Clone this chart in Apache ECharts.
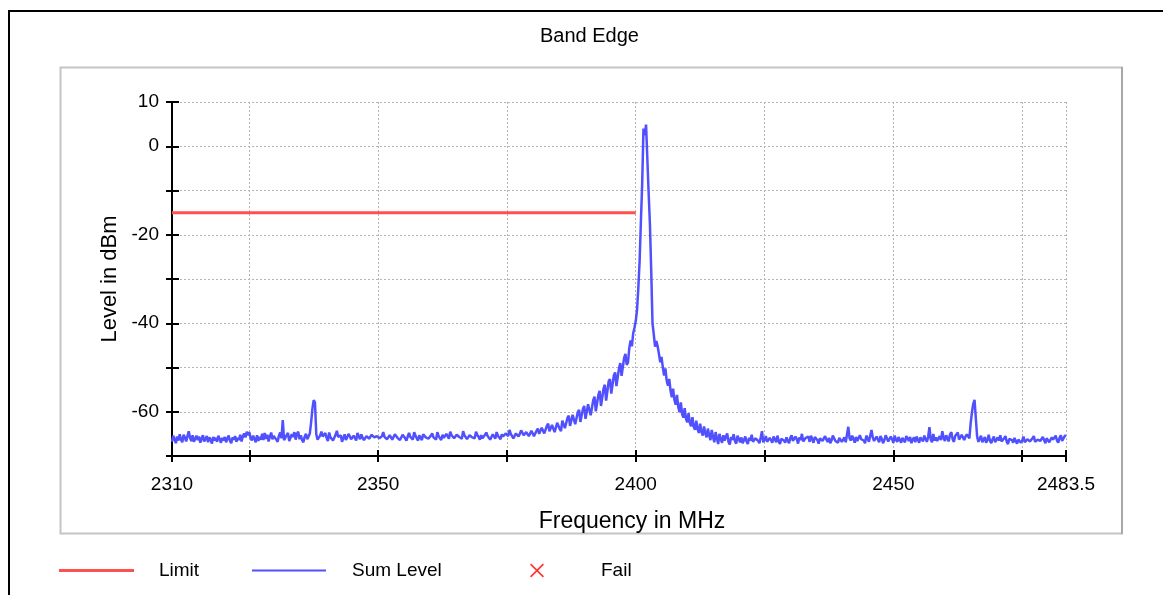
<!DOCTYPE html>
<html><head><meta charset="utf-8">
<script src="https://cdn.jsdelivr.net/npm/echarts@6/dist/echarts.min.js"></script>
<style>html,body{margin:0;padding:0;background:#fff}#c{width:1163px;height:595px}</style>
</head><body><div id="c"></div>
<script>
const TITLE = 'Band Edge';
const X_NAME = 'Frequency in MHz';
const Y_NAME = 'Level in dBm';
const X_TICKS = [2310, 2325, 2350, 2375, 2400, 2425, 2450, 2475, 2483.5];
const X_LABELS = [2310, 2350, 2400, 2450, 2483.5];
const Y_LABELS = [10, 0, -20, -40, -60];
const SERIES_NAMES = ['Limit', 'Sum Level', 'Fail'];

// Limit line
const limitFreq = [2310, 2400];
const limitLevel = [-15, -15];

// Sweep below carrier: 2310 .. 2399.75 MHz, 0.25 MHz step
const LOW_START = 2310, LOW_STEP = 0.25;
const lowLevels = [
  -66.8,-65.4,-66.2,-67.1,-65.6,-66.5,-65.1,-66.3,-66.9,-65.2,-65.8,-66.7,-65.5,-64.4,-65.9,-66.6,-65.3,-66.8,-66.1,-65.4,
  -66.4,-65.6,-67.0,-66.1,-65.3,-66.7,-66.2,-65.5,-66.9,-65.8,-66.3,-67.2,-65.7,-66.5,-65.9,-66.8,-65.4,-66.2,-67.0,-65.9,
  -66.5,-65.7,-66.9,-66.0,-65.4,-66.6,-67.1,-65.8,-66.3,-65.5,-66.8,-65.9,-66.4,-65.2,-66.7,-65.6,-64.9,-65.8,-64.5,-65.3,
  -64.6,-65.9,-66.5,-65.4,-66.1,-66.9,-65.3,-66.6,-65.7,-66.3,-65.0,-66.4,-64.8,-66.1,-65.2,-66.7,-65.6,-64.7,-66.2,-65.5,
  -65.1,-66.3,-66.8,-65.4,-64.7,-66.0,-61.9,-66.4,-66.0,-65.3,-64.8,-66.6,-66.2,-65.1,-65.7,-64.6,-66.3,-65.0,-64.5,-66.2,
  -65.3,-66.4,-66.9,-65.6,-65.0,-66.2,-65.6,-64.9,-62.4,-59.3,-57.4,-57.9,-65.1,-66.3,-66.7,-65.4,-64.5,-65.6,-66.0,-64.8,
  -65.9,-66.6,-64.7,-65.8,-65.4,-66.5,-66.1,-65.2,-64.3,-65.7,-66.0,-65.3,-66.8,-65.9,-65.1,-66.4,-65.8,-65.0,-65.5,-66.2,
  -66.6,-65.4,-65.8,-66.5,-64.8,-65.6,-66.2,-65.1,-65.9,-66.4,-66.8,-65.5,-65.3,-66.1,-66.0,-65.2,-64.9,-65.8,-66.2,-65.5,
  -65.2,-66.0,-66.4,-65.5,-64.6,-65.7,-65.4,-66.2,-66.1,-65.3,-65.0,-66.3,-66.5,-65.1,-64.7,-65.9,-65.5,-66.4,-66.0,-65.2,
  -65.1,-66.0,-66.5,-65.6,-64.8,-65.7,-65.8,-66.3,-64.6,-65.4,-66.0,-66.5,-65.3,-65.9,-66.4,-65.1,-64.7,-65.8,-65.6,-66.1,
  -66.2,-65.4,-64.9,-65.8,-65.6,-66.3,-64.6,-65.5,-65.8,-66.4,-65.2,-65.9,-66.3,-65.0,-65.4,-66.1,-64.5,-65.3,-65.7,-66.0,
  -66.0,-65.2,-64.8,-65.7,-65.4,-66.1,-64.4,-65.3,-65.6,-66.2,-66.1,-65.3,-64.9,-65.8,-65.4,-66.0,-64.5,-65.2,-65.7,-66.3,
  -65.3,-66.0,-66.1,-65.2,-64.7,-65.5,-65.4,-66.3,-66.0,-65.1,-65.2,-66.1,-64.6,-65.4,-65.7,-66.2,-65.1,-65.6,-65.8,-64.9,
  -64.8,-65.5,-64.1,-65.0,-65.4,-66.0,-65.8,-64.9,-64.5,-65.6,-65.0,-64.2,-64.3,-65.3,-65.7,-64.6,-64.8,-65.5,-65.2,-64.3,
  -64.6,-65.5,-65.9,-64.3,-63.8,-65.0,-65.4,-63.6,-63.4,-64.9,-65.1,-63.2,-62.7,-64.4,-64.8,-63.0,-63.2,-64.6,-64.3,-62.5,
  -62.2,-63.9,-64.4,-62.0,-61.8,-63.7,-64.0,-61.4,-60.9,-63.2,-63.4,-60.7,-60.5,-62.8,-63.0,-60.1,-59.6,-62.3,-62.5,-59.4,
  -58.7,-61.6,-61.9,-58.3,-57.9,-60.8,-61.0,-57.4,-56.6,-59.9,-60.1,-56.2,-55.3,-58.7,-58.9,-54.8,-53.9,-57.5,-57.2,-53.1,
  -52.6,-55.9,-56.1,-51.8,-51.1,-54.2,-53.9,-50.2,-49.0,-51.9,-51.5,-47.8,-46.9,-49.4,-48.8,-45.6,-43.9,-45.2,-42.3,-41.0
];

// Carrier: 2400 .. 2404 MHz, 0.25 MHz step
const PEAK_START = 2400, PEAK_STEP = 0.25;
const peakLevels = [
  -39.5,-37.0,-32.0,-26.0,-17.0,-8.5,4.0,2.5,4.9,4.5,
  -10.5,-17.5,-28.0,-40.0,-42.5,-45.3,-44.0
];

// Sweep above carrier: 2404.25 .. 2483.5 MHz, 0.25 MHz step
const HIGH_START = 2404.25, HIGH_STEP = 0.25;
const highLevels = [
  -45.2,-46.9,-48.8,-47.6,-49.9,-51.8,-50.2,-52.9,-54.1,-52.6,-55.2,-56.7,-54.8,-57.3,-58.4,-56.2,-58.9,-60.1,-57.9,-60.5,
  -61.3,-59.2,-61.6,-62.4,-60.3,-62.5,-63.3,-61.2,-63.4,-64.1,-62.0,-63.9,-64.8,-62.7,-64.5,-65.4,-63.3,-64.9,-65.8,-63.8,
  -65.3,-66.4,-64.1,-65.7,-66.9,-64.6,-66.0,-67.3,-65.0,-66.2,-67.0,-65.3,-66.5,-65.6,-64.9,-66.8,-67.4,-65.7,-66.3,-65.1,
  -66.6,-67.2,-65.4,-66.1,-66.9,-65.8,-67.1,-66.4,-65.6,-66.7,-67.3,-65.9,-66.5,-65.2,-66.8,-67.0,-66.0,-65.7,-66.6,-67.1,
  -65.8,-64.4,-66.9,-66.3,-65.5,-66.8,-67.2,-65.9,-66.4,-67.0,-65.6,-66.2,-66.9,-65.4,-66.7,-67.3,-66.1,-65.7,-66.5,-67.0,
  -65.8,-66.5,-67.1,-65.9,-65.3,-66.6,-66.9,-65.6,-66.2,-67.2,-65.8,-66.4,-65.0,-66.7,-67.0,-65.9,-66.3,-65.6,-66.8,-65.4,
  -66.2,-67.0,-65.7,-65.5,-66.4,-67.2,-66.0,-65.7,-66.6,-66.9,-65.5,-66.3,-66.8,-65.9,-67.1,-66.5,-65.4,-65.8,-66.6,-66.2,
  -67.0,-65.9,-65.6,-66.8,-66.4,-65.8,-66.9,-67.1,-63.4,-66.0,-66.5,-65.4,-66.1,-67.0,-65.7,-66.6,-66.9,-65.3,-66.2,-65.9,
  -66.5,-67.1,-65.4,-66.0,-66.8,-67.2,-64.1,-65.8,-66.6,-67.0,-65.6,-66.3,-66.9,-65.5,-66.1,-67.1,-66.4,-65.3,-66.0,-66.7,
  -66.5,-65.6,-66.2,-67.0,-65.4,-66.3,-66.8,-65.7,-66.4,-67.0,-65.9,-66.2,-66.9,-65.5,-66.0,-66.6,-65.7,-67.1,-66.3,-65.8,
  -66.9,-65.6,-66.3,-67.0,-65.8,-66.2,-66.7,-65.4,-66.1,-66.8,-65.7,-63.5,-66.3,-66.9,-65.0,-66.5,-65.8,-66.6,-66.2,-65.5,
  -66.4,-64.4,-65.9,-66.6,-65.3,-66.0,-66.7,-65.1,-64.6,-66.2,-66.8,-65.5,-65.9,-64.7,-66.3,-66.6,-65.2,-65.8,-66.4,-65.6,
  -65.1,-64.8,-66.0,-62.6,-60.1,-58.2,-57.3,-57.6,-65.6,-66.8,-66.1,-65.4,-66.9,-66.3,-65.7,-67.0,-66.4,-65.2,-66.6,-67.1,
  -66.2,-65.6,-66.9,-67.2,-65.8,-66.5,-65.3,-66.7,-67.1,-66.0,-65.5,-66.8,-67.3,-66.1,-65.7,-66.4,-67.0,-65.9,-66.6,-67.2,
  -66.3,-65.9,-67.0,-66.5,-65.6,-66.9,-67.3,-66.2,-65.8,-66.7,-67.1,-66.0,-65.5,-66.8,-67.2,-66.3,-65.9,-66.6,-67.0,-65.7,
  -66.4,-67.1,-66.0,-65.6,-66.9,-67.2,-65.8,-66.3,-66.7,-65.4,-66.5,-67.0,-65.9,-65.3,-66.6,-66.2,-65.5,-65.3
];

// Fail markers (none)
const failPoints = [];

const FONT = "'Liberation Sans', Arial, sans-serif";
const sumData = []
  .concat(lowLevels.map((v, i) => [LOW_START + i * LOW_STEP, v]))
  .concat(peakLevels.map((v, i) => [PEAK_START + i * PEAK_STEP, v]))
  .concat(highLevels.map((v, i) => [HIGH_START + i * HIGH_STEP, v]));
const limitData = limitFreq.map((f, i) => [f, limitLevel[i]]);

const X_ICON = 'path://M0,1L1,0L6,5L11,0L12,1L7,6L12,11L11,12L6,7L1,12L0,11L5,6Z';
const chart = echarts.init(document.getElementById('c'), null, {renderer: 'canvas'});

const gridLine = {show: true, lineStyle: {color: '#b4b4b4', width: 1, type: [2, 2]}};
const xBase = {type: 'value', min: 2310, max: 2483.5, position: 'bottom', gridIndex: 0};
const yBase = {type: 'value', min: -70, max: 10, interval: 10, position: 'left', gridIndex: 0};

chart.setOption({
  animation: false,
  backgroundColor: '#fff',
  textStyle: {fontFamily: FONT},
  title: {
    text: TITLE, left: 540, top: 26, padding: 0,
    textStyle: {fontFamily: FONT, fontSize: 20, fontWeight: 'normal', color: '#000'}
  },
  graphic: [
    {type: 'rect', shape: {x: 9, y: 11, width: 1300, height: 800}, style: {fill: 'none', stroke: '#000', lineWidth: 2}, z: -10, silent: true},
    {type: 'rect', shape: {x: 60.5, y: 67.5, width: 1061.5, height: 466}, style: {fill: 'none', stroke: '#c4c4c4', lineWidth: 2}, z: -10, silent: true},
    {type: 'line', shape: {x1: 1122, y1: 67, x2: 1122, y2: 534}, style: {stroke: '#a8a8a8', lineWidth: 2}, z: -9, silent: true}
  ],
  grid: {left: 172, top: 102, width: 894, height: 354, containLabel: false},
  legend: [
    {left: 59, top: 561, padding: 0, icon: 'rect', itemWidth: 75, itemHeight: 3, selectedMode: false,
     data: [{name: SERIES_NAMES[0], itemStyle: {color: '#ff5050'}}],
     textStyle: {fontFamily: FONT, fontSize: 19, color: '#000', padding: [0, 0, 0, 20]}},
    {left: 252, top: 561, padding: 0, icon: 'rect', itemWidth: 74, itemHeight: 2, selectedMode: false,
     data: [{name: SERIES_NAMES[1], itemStyle: {color: '#5050ff'}}],
     textStyle: {fontFamily: FONT, fontSize: 19, color: '#000', padding: [0, 0, 0, 21]}},
    {left: 530, top: 561, padding: 0, icon: X_ICON, itemWidth: 14, itemHeight: 14, selectedMode: false,
     data: [{name: SERIES_NAMES[2], itemStyle: {color: '#ff0000'}}],
     textStyle: {fontFamily: FONT, fontSize: 19, color: '#000', padding: [0, 0, 0, 52]}}
  ],
  xAxis: [
    Object.assign({}, xBase, {
      name: X_NAME, nameLocation: 'middle', nameGap: 54,
      nameTextStyle: {fontFamily: FONT, fontSize: 23, color: '#000', padding: [0, 0, 0, 26]},
      axisLine: {show: true, onZero: false, lineStyle: {color: '#000', width: 2}},
      axisTick: {show: true, inside: false, length: 6, lineStyle: {color: '#000', width: 2}, customValues: X_TICKS},
      axisLabel: {show: true, margin: 19, fontFamily: FONT, fontSize: 19, color: '#000', customValues: X_LABELS,
                  formatter: v => String(v)},
      splitLine: gridLine
    }),
    Object.assign({}, xBase, {
      axisLine: {show: false, onZero: false},
      axisTick: {show: true, inside: true, length: 6, lineStyle: {color: '#000', width: 2}, customValues: X_TICKS},
      axisLabel: {show: false},
      splitLine: {show: false}
    })
  ],
  yAxis: [
    Object.assign({}, yBase, {
      name: Y_NAME, nameLocation: 'middle', nameGap: 50,
      nameTextStyle: {fontFamily: FONT, fontSize: 22, color: '#000'},
      axisLine: {show: true, onZero: false, lineStyle: {color: '#000', width: 2}},
      axisTick: {show: true, inside: false, length: 6, lineStyle: {color: '#000', width: 2}},
      axisLabel: {show: true, margin: 13, fontFamily: FONT, fontSize: 19, color: '#000', customValues: Y_LABELS,
                  formatter: v => String(v)},
      splitLine: gridLine
    }),
    Object.assign({}, yBase, {
      axisLine: {show: false, onZero: false},
      axisTick: {show: true, inside: true, length: 7, lineStyle: {color: '#000', width: 2}},
      axisLabel: {show: false},
      splitLine: {show: false}
    })
  ],
  series: [
    {name: SERIES_NAMES[0], type: 'line', data: limitData, symbol: 'none', color: '#ff5050',
     lineStyle: {color: '#ff5050', width: 3}, z: 3},
    {name: SERIES_NAMES[1], type: 'line', data: sumData, symbol: 'none', color: '#5050ff',
     lineStyle: {color: '#5050ff', width: 2.5}, z: 4},
    {name: SERIES_NAMES[2], type: 'scatter', data: failPoints, symbol: X_ICON, symbolSize: 12, color: '#ff0000', z: 5}
  ]
});
</script>
</body></html>
